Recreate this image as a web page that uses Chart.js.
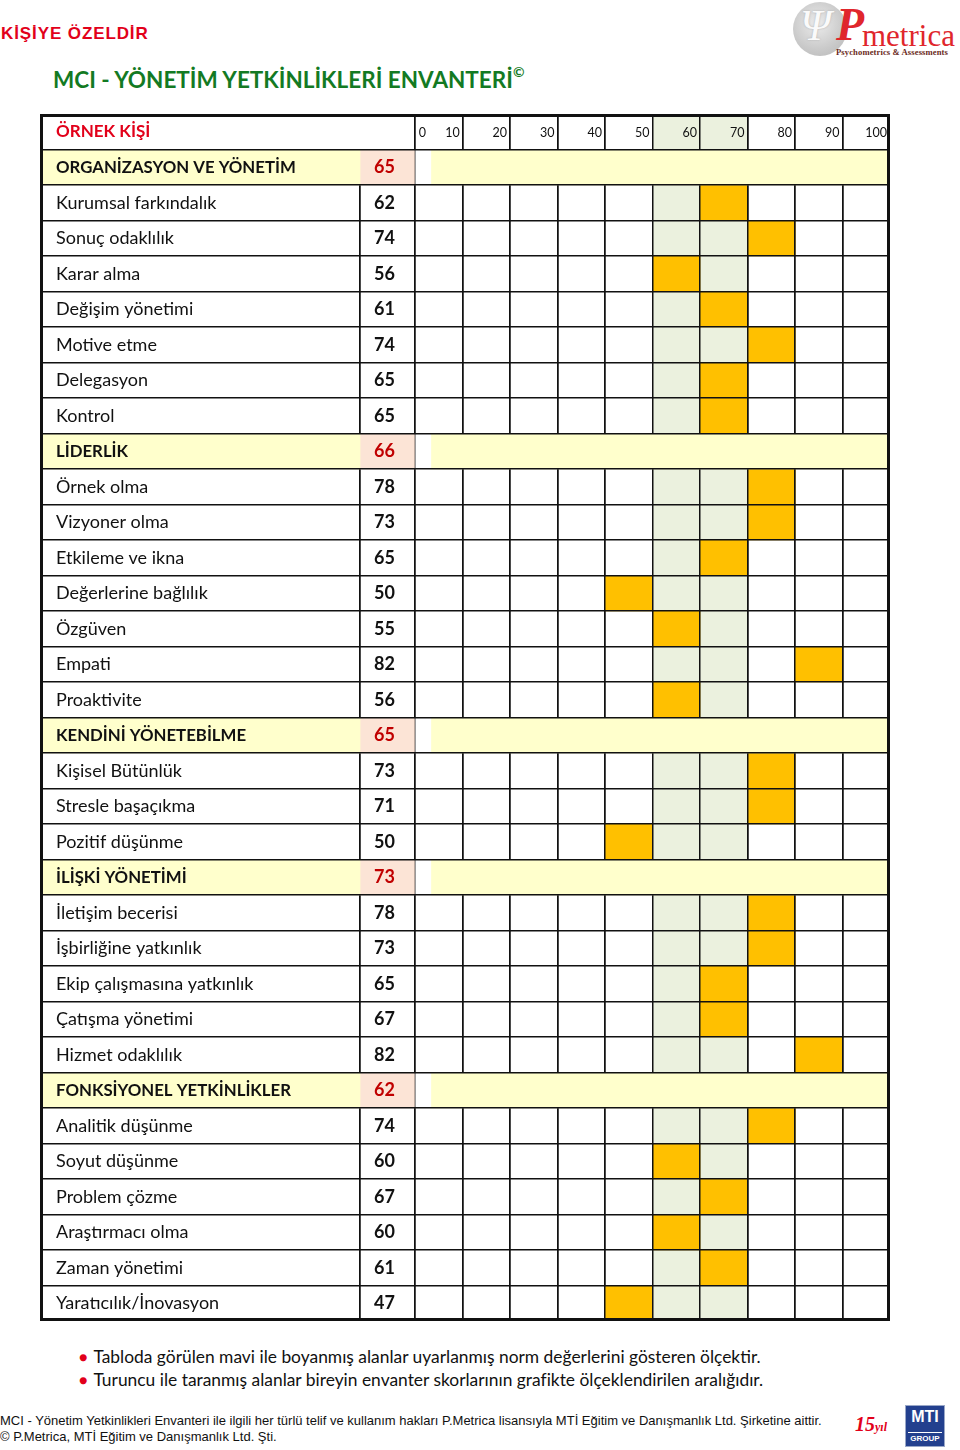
<!DOCTYPE html>
<html lang="tr">
<head>
<meta charset="utf-8">
<title>MCI - Yönetim Yetkinlikleri Envanteri</title>
<script src="https://cdn.jsdelivr.net/npm/chart.js@4.4.1/dist/chart.umd.min.js"></script>
<style>
  body { margin: 0; width: 960px; height: 1450px; position: relative; background: #fff; font-family: Lato, sans-serif; overflow: hidden; }
  .abs { position: absolute; white-space: nowrap; }
  #private { left: 1px; top: 24px; font: bold 17px "Liberation Sans", Arial, sans-serif; color: #e2001a; letter-spacing: 0.9px; }
  #title { left: 53px; top: 65px; font: bold 22.5px Lato, sans-serif; color: #137a23; }
  #title sup { font-size: 14px; position: relative; top: -2px; }
  #logo-circle { left: 793px; top: 2px; width: 54px; height: 54px; border-radius: 50%;
    background: radial-gradient(circle at 45% 40%, #ececec 0%, #c9c9c9 60%, #b5b5b5 100%); }
  #logo-psi { left: 800px; top: 0px; font: italic 44px "Liberation Serif", serif; color: #fafafa; text-shadow: 0 0 2px #aaa; }
  #logo-p { left: 836px; top: -2px; font: italic bold 46px "Liberation Serif", serif; color: #e0262c; }
  #logo-metrica { left: 862px; top: 18px; font: 31px "Liberation Serif", serif; color: #e0262c; }
  #logo-sub { left: 836px; top: 47px; font: bold 8.6px "Liberation Serif", serif; color: #6b2a22; letter-spacing: 0.1px; }
  #wrap { left: 40px; top: 114px; width: 850px; height: 1207px; }
  #frame { left: 40px; top: 114px; width: 844px; height: 1201px; border: 3px solid #111; pointer-events: none; }
  .note { left: 79px; font: 17.4px Lato, sans-serif; color: #111; }
  .note b { color: #e2001a; font-size: 14px; margin-right: 6px; position: relative; top: -1px; }
  .foot { left: 0px; font: 13px "Liberation Sans", Arial, sans-serif; color: #111; }
  #yil { left: 855px; top: 1413px; font: italic bold 20px "Liberation Serif", serif; color: #e2001a; }
  #yil span { font-size: 12px; }
  #mti { left: 905px; top: 1405px; width: 38px; height: 40px; background: #23408e; border: 1px solid #9aa8c8; }
  #mti-t { left: 908px; top: 1408px; width: 34px; text-align: center; font: bold 16px "Liberation Sans", Arial, sans-serif; color: #fff; }
  #mti-g { left: 908px; top: 1432px; width: 34px; text-align: center; font: bold 8px "Liberation Sans", Arial, sans-serif; color: #fff; border-top: 1px solid #fff; padding-top: 1px; }
</style>
</head>
<body>
<div class="abs" id="private">KİŞİYE ÖZELDİR</div>
<div class="abs" id="logo-circle"></div>
<div class="abs" id="logo-psi">Ψ</div>
<div class="abs" id="logo-p">P</div>
<div class="abs" id="logo-metrica">metrica</div>
<div class="abs" id="logo-sub">Psychometrics &amp; Assessments</div>
<div class="abs" id="title">MCI - YÖNETİM YETKİNLİKLERİ ENVANTERİ<sup>©</sup></div>

<div class="abs" id="wrap"><canvas id="grid" width="850" height="1207"></canvas></div>
<div class="abs" id="frame"></div>

<div class="abs note" style="top:1346px"><b>●</b>Tabloda görülen mavi ile boyanmış alanlar uyarlanmış norm değerlerini gösteren ölçektir.</div>
<div class="abs note" style="top:1369px"><b>●</b>Turuncu ile taranmış alanlar bireyin envanter skorlarının grafikte ölçeklendirilen aralığıdır.</div>

<div class="abs foot" style="top:1413px">MCI - Yönetim Yetkinlikleri Envanteri ile ilgili her türlü telif ve kullanım hakları P.Metrica lisansıyla MTİ Eğitim ve Danışmanlık Ltd. Şirketine aittir.</div>
<div class="abs foot" style="top:1429px">© P.Metrica, MTİ Eğitim ve Danışmanlık Ltd. Şti.</div>
<div class="abs" id="yil">15<span>yıl</span></div>
<div class="abs" id="mti"></div>
<div class="abs" id="mti-t">MTI</div>
<div class="abs" id="mti-g">GROUP</div>

<script>
// rows of the table, top to bottom (first row is the header)
const rowLabels = [
  "ÖRNEK KİŞİ",
  "ORGANİZASYON VE YÖNETİM", "Kurumsal farkındalık", "Sonuç odaklılık", "Karar alma",
  "Değişim yönetimi", "Motive etme", "Delegasyon", "Kontrol",
  "LİDERLİK", "Örnek olma", "Vizyoner olma", "Etkileme ve ikna", "Değerlerine bağlılık",
  "Özgüven", "Empati", "Proaktivite",
  "KENDİNİ YÖNETEBİLME", "Kişisel Bütünlük", "Stresle başaçıkma", "Pozitif düşünme",
  "İLİŞKİ YÖNETİMİ", "İletişim becerisi", "İşbirliğine yatkınlık", "Ekip çalışmasına yatkınlık",
  "Çatışma yönetimi", "Hizmet odaklılık",
  "FONKSİYONEL YETKİNLİKLER", "Analitik düşünme", "Soyut düşünme", "Problem çözme",
  "Araştırmacı olma", "Zaman yönetimi", "Yaratıcılık/İnovasyon"
];
const rowKinds = [
  "head",
  "group", "item", "item", "item", "item", "item", "item", "item",
  "group", "item", "item", "item", "item", "item", "item", "item",
  "group", "item", "item", "item",
  "group", "item", "item", "item", "item", "item",
  "group", "item", "item", "item", "item", "item", "item"
];
const rowScores = [
  null,
  65, 62, 74, 56, 61, 74, 65, 65,
  66, 78, 73, 65, 50, 55, 82, 56,
  65, 73, 71, 50,
  73, 78, 73, 65, 67, 82,
  62, 74, 60, 67, 60, 61, 47
];
const xTicks = [0, 10, 20, 30, 40, 50, 60, 70, 80, 90, 100];
const normRange = [50, 70];
const binSize = 10;

// table layout, in x-scale units (the label and score columns sit left of 0)
const X_LEFT = -79;
const SCORE_EDGE = -11.6;
const GAP_END = 3.3;
const ZERO_LABEL_AT = 2.9;   // the "0" is written inside the first column

const ORANGE = "#ffc000";
const GREEN = "#ebf1de";
const YELLOW = "#ffffcc";
const PINK = "#fce4d6";
const RED = "#c00000";
const LINE = "#111";

const scoreBins = rowScores.map((s, i) => {
  if (rowKinds[i] !== "item") return null;
  const hi = Math.ceil(s / binSize) * binSize;
  return [hi - binSize, hi];
});
const normBars = rowKinds.map(k => k === "group" ? null : normRange);
const onGroup = range => rowKinds.map(k => k === "group" ? range : null);
const onHead = range => rowKinds.map(k => k === "head" ? range : null);
const scoreText = rowScores.map(s => s == null ? "" : String(s));

const bar = (label, data, color, order) => ({
  label, data, backgroundColor: color, order,
  barPercentage: 1, categoryPercentage: 1, grouped: false, borderWidth: 0
});

// axes sit on the edges with no room of their own; labels are drawn inside
const flat = (w, h) => s => {
  if (w != null) s.width = w;
  if (h != null) s.height = h;
  s.paddingTop = s.paddingBottom = s.paddingLeft = s.paddingRight = 0;
};

// column lines go over the coloured cells but under the group bands
const cellLines = {
  id: "cellLines",
  afterDatasetDraw: (chart, args) => {
    if (chart.data.datasets[args.index].label === "score") chart.scales.x.drawGrid(chart.chartArea);
  }
};

new Chart("grid", {
  type: "bar",
  data: {
    labels: rowLabels,
    datasets: [
      bar("score", scoreBins, ORANGE, 3),
      bar("norm", normBars, GREEN, 4),
      bar("band", onGroup([X_LEFT, SCORE_EDGE]), YELLOW, 1),
      bar("band", onGroup([SCORE_EDGE, 0]), PINK, 1),
      bar("band", onGroup([0, GAP_END]), "#ffffff", 1),
      bar("band", onGroup([GAP_END, 100]), YELLOW, 1),
      bar("band", onHead([X_LEFT, -0.4]), "#ffffff", 1)
    ]
  },
  plugins: [cellLines],
  options: {
    indexAxis: "y",
    responsive: false,
    animation: false,
    devicePixelRatio: 1,
    layout: { padding: 0 },
    scales: {
      x: {
        type: "linear",
        position: "top",
        min: X_LEFT,
        max: 100,
        afterBuildTicks: s => {
          s.ticks = [SCORE_EDGE].concat(xTicks, [ZERO_LABEL_AT]).map(v => ({ value: v }));
        },
        afterFit: flat(null, 0),
        grid: {
          color: ctx => (ctx.tick && ctx.tick.value === ZERO_LABEL_AT) ? "rgba(0,0,0,0)" : LINE,
          lineWidth: 1.5,
          drawTicks: false
        },
        border: { display: false },
        ticks: {
          z: 2,
          mirror: true,
          padding: 11,
          autoSkip: false,
          maxRotation: 0,
          align: "end",
          labelOffset: -3,
          color: LINE,
          font: { family: "Lato", size: 12.5 },
          callback: v => v === ZERO_LABEL_AT ? "0" : (v !== 0 && xTicks.includes(v) ? String(v) : "")
        }
      },
      y: {
        type: "category",
        position: "left",
        offset: true,
        afterFit: flat(0, null),
        grid: { z: 1, offset: true, color: LINE, lineWidth: 1.5, drawTicks: false },
        border: { display: false },
        ticks: {
          z: 2,
          mirror: true,
          padding: 16,
          autoSkip: false,
          color: ctx => rowKinds[ctx.index] === "head" ? "#e2001a" : LINE,
          font: ctx => ({
            family: "Lato",
            size: { item: 18, group: 16.8, head: 17 }[rowKinds[ctx.index]] || 18,
            weight: rowKinds[ctx.index] === "item" ? "normal" : "bold"
          })
        }
      },
      y2: {
        type: "category",
        position: "left",
        labels: scoreText,
        offset: true,
        afterFit: flat(0, null),
        grid: { display: false, drawTicks: false },
        border: { display: false },
        ticks: {
          z: 2,
          mirror: true,
          padding: 334,
          autoSkip: false,
          color: ctx => rowKinds[ctx.index] === "group" ? RED : LINE,
          font: { family: "Lato", size: 18, weight: "bold" }
        }
      }
    },
    plugins: {
      legend: { display: false },
      tooltip: { enabled: false }
    }
  }
});
</script>
</body>
</html>
